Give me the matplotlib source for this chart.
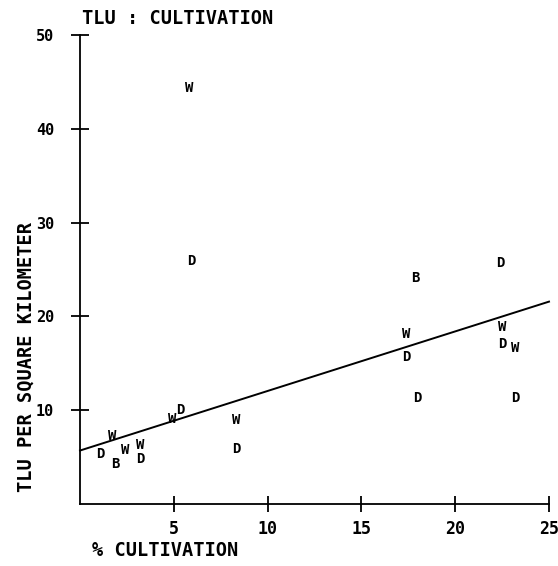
import matplotlib
matplotlib.use("Agg")
import matplotlib.pyplot as plt
import numpy as np

# Data
pct_cultivation = [5.8, 5.96, 17.9, 22.4, 17.4, 17.4, 18.0, 22.5, 22.5, 23.2, 23.2,
                   1.08, 1.7, 1.9, 2.4, 3.2, 3.2, 4.9, 5.36, 8.3, 8.35]
tlu_density = [44.4, 25.9, 24.1, 25.7, 18.1, 15.7, 11.3, 18.9, 17.1, 16.6, 11.3,
               5.3, 7.2, 4.3, 5.8, 6.3, 4.8, 9.1, 10.0, 9.0, 5.9]
point_labels = ["W", "D", "B", "D", "W", "D", "D", "W", "D", "W", "D",
                "D", "W", "B", "W", "W", "D", "W", "D", "W", "D"]
fit_intercept = 5.7
fit_slope = 0.635
x_ticks = [5, 10, 15, 20, 25]
y_ticks = [10, 20, 30, 40, 50]

FONT = "DejaVu Sans Mono"

fig = plt.figure(figsize=(5.58, 5.66), dpi=100)
ax = fig.add_axes([80/558, 62/566, (549-80)/558, (504-35)/566])
ax.set_xlim(0, 25)
ax.set_ylim(0, 50)

for s in ["top", "right"]:
    ax.spines[s].set_visible(False)
for s in ["left", "bottom"]:
    ax.spines[s].set_linewidth(1.3)
    ax.spines[s].set_color("black")

ax.set_xticks(x_ticks)
ax.set_yticks(y_ticks)
ax.set_xticklabels([str(t) for t in x_ticks], fontfamily=FONT, fontweight="bold", fontsize=12)
ax.set_yticklabels([str(t) for t in y_ticks], fontfamily=FONT, fontweight="bold", fontsize=11)
ax.tick_params(axis="both", direction="inout", width=1.3)
ax.tick_params(axis="x", pad=6, length=11)
ax.tick_params(axis="y", pad=12, length=13)

# regression line
xl = np.array([0, 25])
ax.plot(xl, fit_intercept + fit_slope * xl, color="black", lw=1.4, clip_on=False)

for x, y, lab in zip(pct_cultivation, tlu_density, point_labels):
    ax.text(x, y, lab, ha="center", va="center", fontfamily=FONT,
            fontweight="bold", fontsize=10, color="black")

fig.text(82/558, 1 - 19/566, "TLU : CULTIVATION", ha="left", va="center",
         fontfamily=FONT, fontweight="bold", fontsize=13.4)
fig.text(92/558, 1 - 550/566, "% CULTIVATION", ha="left", va="center",
         fontfamily=FONT, fontweight="bold", fontsize=13.4)
fig.text(26/558, 1 - 357/566, "TLU PER SQUARE KILOMETER", ha="center", va="center",
         rotation=90, fontfamily=FONT, fontweight="bold", fontsize=13.4)

fig.savefig("out.png", dpi=100, facecolor="white")
